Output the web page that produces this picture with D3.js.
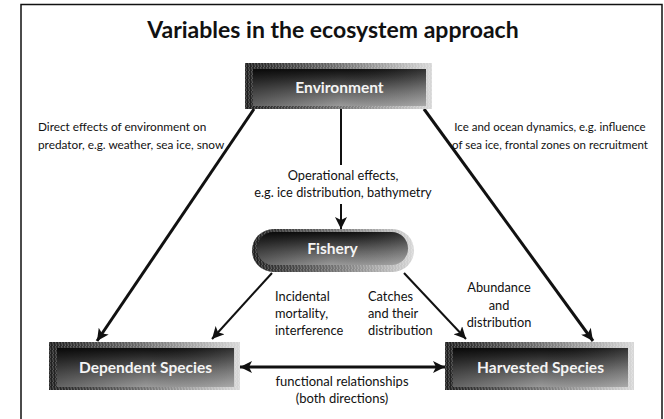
<!DOCTYPE html>
<html>
<head>
<meta charset="utf-8">
<script src="https://cdn.jsdelivr.net/npm/d3@7"></script>
<style>
  html, body { margin: 0; padding: 0; background: #fff; }
  svg { display: block; font-family: Lato, "Open Sans", sans-serif; }
</style>
</head>
<body>
<div class="chart"></div>
<script>
// diagram content
const title = 'Variables in the ecosystem approach';
const nodes = ['Environment', 'Fishery', 'Dependent Species', 'Harvested Species'];
const links = [
  ['Environment', 'Dependent Species'],
  ['Environment', 'Harvested Species'],
  ['Environment', 'Fishery'],
  ['Fishery', 'Dependent Species'],
  ['Fishery', 'Harvested Species'],
  ['Dependent Species', 'Harvested Species']
];
const notes = [
  ['Direct effects of environment on', 'predator, e.g. weather, sea ice, snow'],
  ['Ice and ocean dynamics, e.g. influence', 'of sea ice, frontal zones on recruitment'],
  ['Operational effects,', 'e.g. ice distribution, bathymetry'],
  ['Incidental', 'mortality,', 'interference'],
  ['Catches', 'and their', 'distribution'],
  ['Abundance', 'and', 'distribution'],
  ['functional relationships', '(both directions)']
];

function displayChart() {
  const w = 664;
  const h = 419;

  // layout (pixel positions of the boxes)
  const box = {
    'Environment': { x: 245, y: 63, w: 187, h: 46, pill: false },
    'Fishery': { x: 252, y: 229, w: 162, h: 43, pill: true },
    'Dependent Species': { x: 49, y: 342, w: 191, h: 48, pill: false },
    'Harvested Species': { x: 445, y: 342, w: 189, h: 48, pill: false }
  };
  const linkPath = [
    { p: [[254, 109], [97, 341]], sw: 3, both: false },
    { p: [[424, 109], [593, 341]], sw: 3, both: false },
    { p: [[341, 204], [341, 229]], sw: 2, both: false },
    { p: [[272, 273], [212, 339]], sw: 2, both: false },
    { p: [[404, 273], [466, 339]], sw: 2, both: false },
    { p: [[240, 367], [445, 367]], sw: 3, both: true }
  ];
  const notePos = [
    { x: 38, y: 131, anchor: 'start', lh: 18, size: 11.8 },
    { x: 550, y: 131, anchor: 'middle', lh: 18, size: 11.5 },
    { x: 343, y: 180, anchor: 'middle', lh: 17, size: 12.8 },
    { x: 275, y: 301, anchor: 'start', lh: 17, size: 12.8 },
    { x: 368, y: 301, anchor: 'start', lh: 17, size: 12.8 },
    { x: 499, y: 292, anchor: 'middle', lh: 17.5, size: 12.8 },
    { x: 342, y: 386, anchor: 'middle', lh: 17, size: 13 }
  ];

  const svg = d3.select('.chart')
    .append('svg')
    .attr('width', w)
    .attr('height', h)
    .attr('viewBox', `0 0 ${w} ${h}`);

  const defs = svg.append('defs');

  const outerGrad = defs.append('linearGradient')
    .attr('id', 'outer-grad')
    .attr('x1', 0).attr('x2', 1).attr('y1', 0).attr('y2', 0);
  outerGrad.append('stop').attr('offset', 0).attr('stop-color', '#1e1e1e');
  outerGrad.append('stop').attr('offset', 0.45).attr('stop-color', '#666');
  outerGrad.append('stop').attr('offset', 1).attr('stop-color', '#d8d8d8');

  const innerGrad = defs.append('linearGradient')
    .attr('id', 'inner-grad')
    .attr('x1', 0).attr('x2', 0).attr('y1', 0).attr('y2', 1);
  innerGrad.append('stop').attr('offset', 0).attr('stop-color', '#0e0e0e');
  innerGrad.append('stop').attr('offset', 0.2).attr('stop-color', '#2a2a2a');
  innerGrad.append('stop').attr('offset', 0.6).attr('stop-color', '#666');
  innerGrad.append('stop').attr('offset', 1).attr('stop-color', '#9a9a9a');

  const hatch = defs.append('pattern')
    .attr('id', 'hatch')
    .attr('patternUnits', 'userSpaceOnUse')
    .attr('width', 3)
    .attr('height', 4);
  hatch.append('path')
    .attr('d', 'M0.5,0 L1.5,4')
    .attr('stroke', '#fff')
    .attr('stroke-opacity', 0.35)
    .attr('stroke-width', 0.8);

  const sideShade = defs.append('linearGradient')
    .attr('id', 'side-shade')
    .attr('x1', 0).attr('x2', 1).attr('y1', 0).attr('y2', 0);
  sideShade.append('stop').attr('offset', 0).attr('stop-color', '#000').attr('stop-opacity', 0.35);
  sideShade.append('stop').attr('offset', 0.5).attr('stop-color', '#000').attr('stop-opacity', 0.0);
  sideShade.append('stop').attr('offset', 1).attr('stop-color', '#fff').attr('stop-opacity', 0.15);

  defs.append('marker')
    .attr('id', 'arrow')
    .attr('viewBox', '0 0 10 10')
    .attr('refX', 10)
    .attr('refY', 5)
    .attr('markerUnits', 'userSpaceOnUse')
    .attr('markerWidth', 15)
    .attr('markerHeight', 12)
    .attr('orient', 'auto-start-reverse')
    .append('path')
    .attr('d', 'M0,0 L10,5 L0,10 L2.5,5 Z')
    .attr('fill', '#111');

  // frame
  svg.append('rect')
    .attr('x', 21)
    .attr('y', 4.5)
    .attr('width', 641)
    .attr('height', 420)
    .attr('fill', 'none')
    .attr('stroke', '#111')
    .attr('stroke-width', 1.5);

  svg.append('text')
    .attr('x', 333)
    .attr('y', 38)
    .attr('text-anchor', 'middle')
    .attr('font-size', 23)
    .attr('font-weight', 'bold')
    .attr('fill', '#111')
    .text(title);

  // arrows
  svg.selectAll('.link')
    .data(links)
    .enter()
    .append('path')
    .attr('class', 'link')
    .attr('d', (d, i) => d3.line()(linkPath[i].p))
    .attr('stroke', '#111')
    .attr('stroke-width', (d, i) => linkPath[i].sw)
    .attr('fill', 'none')
    .attr('marker-end', 'url(#arrow)')
    .attr('marker-start', (d, i) => linkPath[i].both ? 'url(#arrow)' : null);

  // short stem from Environment to the note
  svg.append('line')
    .attr('x1', 341).attr('y1', 109)
    .attr('x2', 341).attr('y2', 165)
    .attr('stroke', '#111')
    .attr('stroke-width', 2);

  // boxes
  const g = svg.selectAll('.node')
    .data(nodes)
    .enter()
    .append('g')
    .attr('class', 'node')
    .attr('transform', d => `translate(${box[d].x}, ${box[d].y})`);

  g.each(function(d) {
    const b = box[d];
    const sel = d3.select(this);
    const r = b.pill ? b.h / 2 : 0;
    sel.append('rect')
      .attr('width', b.w).attr('height', b.h)
      .attr('rx', r).attr('ry', r)
      .attr('fill', 'url(#outer-grad)');
    sel.append('rect')
      .attr('width', b.w).attr('height', b.h)
      .attr('rx', r).attr('ry', r)
      .attr('fill', 'url(#hatch)');
    const il = b.pill ? 5 : 8;
    const it = b.pill ? 3 : 6;
    const ir = b.pill ? 6 : 6;
    const ib = b.pill ? 7 : 3;
    const ih = b.h - it - ib;
    sel.append('rect')
      .attr('x', il).attr('y', it)
      .attr('width', b.w - il - ir).attr('height', ih)
      .attr('rx', b.pill ? ih / 2 : 0).attr('ry', b.pill ? ih / 2 : 0)
      .attr('fill', 'url(#inner-grad)');
    sel.append('rect')
      .attr('x', il).attr('y', it)
      .attr('width', b.w - il - ir).attr('height', ih)
      .attr('rx', b.pill ? ih / 2 : 0).attr('ry', b.pill ? ih / 2 : 0)
      .attr('fill', 'url(#side-shade)');
    sel.append('text')
      .attr('x', il + (b.w - il - ir) / 2)
      .attr('y', it + ih / 2 + 5.5)
      .attr('text-anchor', 'middle')
      .attr('font-size', 15.5)
      .attr('font-weight', 'bold')
      .attr('fill', '#f4f4f4')
      .text(d);
  });

  // notes
  svg.selectAll('.note')
    .data(notes)
    .enter()
    .append('text')
    .attr('class', 'note')
    .attr('font-size', (d, i) => notePos[i].size)
    .attr('fill', '#111')
    .attr('text-anchor', (d, i) => notePos[i].anchor)
    .each(function(d, i) {
      d3.select(this).selectAll('tspan')
        .data(d)
        .enter()
        .append('tspan')
        .attr('x', notePos[i].x)
        .attr('y', (t, j) => notePos[i].y + j * notePos[i].lh)
        .text(t => t);
    });
}

displayChart();
</script>
</body>
</html>
